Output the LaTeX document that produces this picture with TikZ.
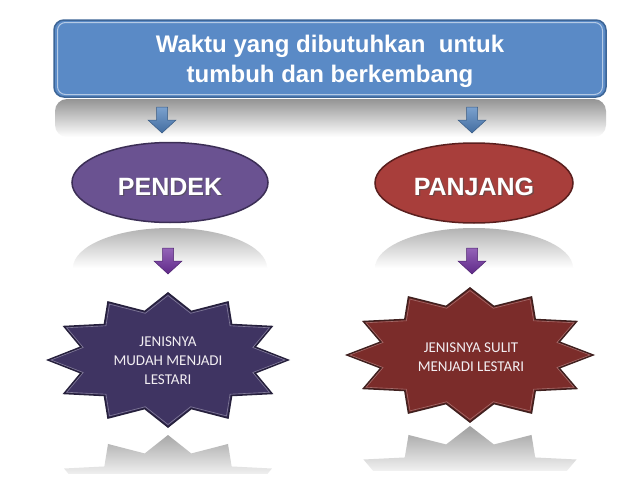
\documentclass[tikz,border=0pt]{standalone}
\usepackage{fontspec}
\setmainfont{Liberation Sans}
\newfontfamily\calibrifont{Carlito}
\usetikzlibrary{shapes.geometric,calc}

\definecolor{boxblue}{HTML}{5A8AC6}
\definecolor{boxedge}{HTML}{3D6596}
\definecolor{arrblue}{HTML}{4F81BD}
\definecolor{elpurple}{HTML}{6A5291}
\definecolor{elpurpleedge}{HTML}{3B2E55}
\definecolor{elred}{HTML}{A83E3B}
\definecolor{elrededge}{HTML}{5A1F1E}
\definecolor{arrpurple}{HTML}{7030A0}
\definecolor{stpurple}{HTML}{3F3462}
\definecolor{stpurpleedge}{HTML}{26203C}
\definecolor{stred}{HTML}{7B2C2A}
\definecolor{strededge}{HTML}{40201F}
\definecolor{lighttext}{HTML}{F2EEF2}

\newcommand\mystarpath[4]{(#1+#3,#2) \foreach \k in {1,...,23}{ -- ({#1+#3*(mod(\k,2)==0?1:0.75)*cos(15*\k)},{#2+#4*(mod(\k,2)==0?1:0.75)*sin(15*\k)}) } -- cycle}

\newcommand\blkarrow[3]{%
  \begin{scope}[shift={#1}]
    \shade[top color=#2!75!white, bottom color=#2!85!black, draw=#3, line width=0.5pt]
      (-5.5,0) -- (5.5,0) -- (5.5,13) -- (14,13) -- (0,26) -- (-14,13) -- (-5.5,13) -- cycle;
  \end{scope}}

\tikzset{
  topbox/.style={rectangle, rounded corners=10pt, fill=boxblue, draw=boxedge, line width=1.5pt,
    minimum width=552pt, minimum height=77pt, text=white, align=center,
    font=\bfseries\fontsize{24}{30}\selectfont},
  elshape/.style={ellipse, minimum width=196pt, minimum height=80pt, line width=1.5pt, inner sep=0pt},
  eltext/.style={text=white, font=\bfseries\fontsize{25}{30}\selectfont, inner sep=0pt},
  elshadow/.style={text=black!70, font=\bfseries\fontsize{25}{30}\selectfont, inner sep=0pt, opacity=0.6},
  startext/.style={text=lighttext, align=center, inner sep=0pt,
    font=\calibrifont\fontsize{15}{19}\selectfont},
}

\begin{document}
\begin{tikzpicture}[x=1pt,y=-1pt]
\fill[white] (0,0) rectangle (638,479);
\useasboundingbox (0,0) rectangle (638,479);

% reflection of the top box
\shade[top color=black!42, bottom color=white, rounded corners=12pt] (55,99) rectangle (606,137);

% top box
\node[topbox] (top) at (330,58.5) {};
\draw[white!55!boxblue, line width=1pt, rounded corners=8pt] (57.5,22.5) rectangle (602.5,94.5);
\node[text=white, align=center, font=\bfseries\fontsize{24}{30}\selectfont, inner sep=0pt]
  (toptext) at ([yshift=-3pt]top.center) {Waktu yang dibutuhkan\ \ untuk\\tumbuh dan berkembang};

% blue arrows
\coordinate (ab1) at (162,107);
\coordinate (ab2) at (472,107);
\blkarrow{(ab1)}{arrblue}{arrblue!70!black}
\blkarrow{(ab2)}{arrblue}{arrblue!70!black}

% ellipse reflections
\begin{scope}
  \clip (170,268) ellipse [x radius=97, y radius=40];
  \shade[top color=black!30, bottom color=white] (60,228) rectangle (280,268);
\end{scope}
\begin{scope}
  \clip (474,268) ellipse [x radius=99, y radius=40];
  \shade[top color=black!30, bottom color=white] (360,228) rectangle (590,268);
\end{scope}

% ellipses
\node[elshape, fill=elpurple, draw=elpurpleedge] (pendek) at (170,182.5) {};
\node[elshape, fill=elred, draw=elrededge, minimum width=198pt] (panjang) at (474,183) {};
\node[elshadow] (pendeks) at ([xshift=1.3pt,yshift=-5.3pt]pendek.center) {PENDEK};
\node[eltext] (pendekt) at ([yshift=-4pt]pendek.center) {PENDEK};
\node[elshadow] (panjangs) at ([xshift=1.3pt,yshift=-5.3pt]panjang.center) {PANJANG};
\node[eltext] (panjangt) at ([yshift=-4pt]panjang.center) {PANJANG};

% purple arrows
\coordinate (ap1) at (168,248);
\coordinate (ap2) at (472,248);
\blkarrow{(ap1)}{arrpurple}{arrpurple!70!black}
\blkarrow{(ap2)}{arrpurple}{arrpurple!70!black}

% star reflections
\begin{scope}
  \clip \mystarpath{168}{502}{120}{67};
  \shade[top color=black!38, bottom color=black!6] (40,430) rectangle (300,474);
\end{scope}
\begin{scope}
  \clip \mystarpath{470}{493}{123}{67};
  \shade[top color=black!38, bottom color=black!6] (340,426) rectangle (600,470);
\end{scope}
\fill[white] (0,474) rectangle (638,479);

% stars
\fill[stpurple, draw=stpurpleedge, line width=1.5pt, line join=miter] \mystarpath{168}{360}{120}{67};
\draw[white!35!stpurple, line width=0.6pt] \mystarpath{168}{360}{117}{64.5};
\fill[stred, draw=strededge, line width=1.5pt, line join=miter] \mystarpath{470}{355}{123}{67};
\draw[white!30!stred, line width=0.6pt] \mystarpath{470}{355}{120}{64.5};

\node[startext] (leftstar) at (168,361) {JENISNYA\\MUDAH MENJADI\\LESTARI};
\node[startext] (rightstar) at (471,357) {JENISNYA SULIT\\MENJADI LESTARI};
\end{tikzpicture}
\end{document}
